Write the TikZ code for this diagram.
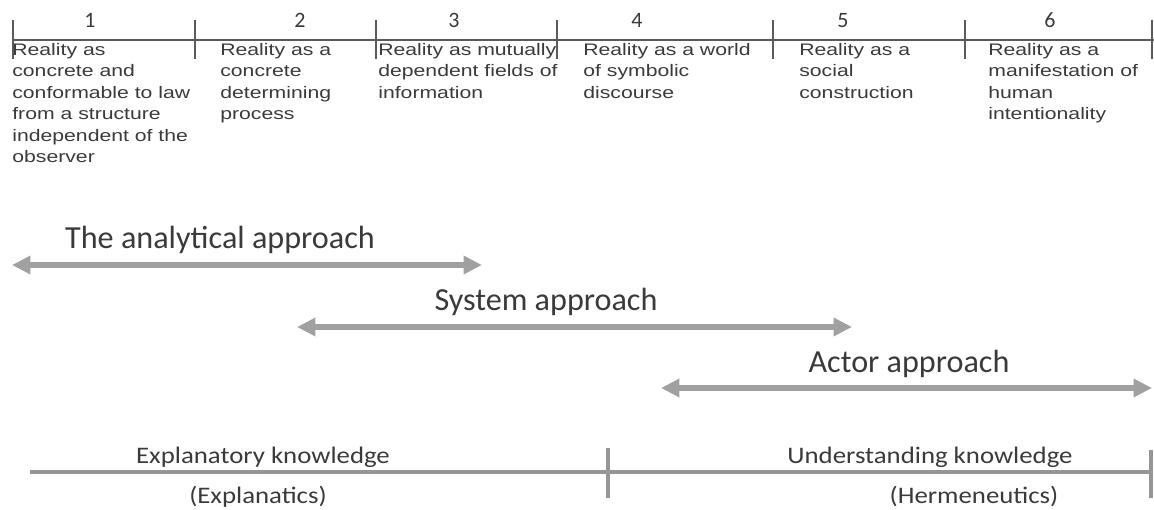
\documentclass[tikz,border=0pt]{standalone}
\usepackage{fontspec}
\usepackage{tikz}
\usetikzlibrary{arrows.meta,positioning}
\newfontfamily\colfont[FakeStretch=1.27]{Liberation Sans}
\newfontfamily\labfont{Carlito}
\newfontfamily\knowfont[FakeStretch=1.13]{Carlito}
\definecolor{axisgray}{RGB}{90,90,90}
\definecolor{arrowgray}{RGB}{160,160,160}
\definecolor{linegray}{RGB}{150,150,150}
\definecolor{textgray}{RGB}{58,58,58}

\begin{document}
\begin{tikzpicture}[
    x=0.02cm, y=-0.02cm,
    >={Triangle[length=10.5pt, width=10pt]},
    axisline/.style={draw=axisgray, line width=1.1pt},
    numlabel/.style={font=\labfont\fontsize{12.5}{14}\selectfont, text=textgray,
        anchor=base, inner sep=0pt},
    realitytext/.style={font=\colfont\fontsize{9.5}{12.2}\selectfont, text=textgray,
        align=left, anchor=north west, inner sep=0pt},
    spanarr/.style={<->, draw=arrowgray, line width=3pt},
    spanlabel/.style={font=\labfont\fontsize{18.3}{22}\selectfont, text=textgray,
        anchor=base, inner sep=0pt},
    knowline/.style={draw=linegray, line width=2.2pt},
    knowlabel/.style={font=\knowfont\fontsize{13.5}{16}\selectfont, text=textgray,
        anchor=base, inner sep=0pt},
]
\useasboundingbox (0,0) rectangle (1154,510);

% === TOP: numbered scale of reality views ===
\coordinate (a0) at (13,40);
\coordinate (a1) at (195,40);
\coordinate (a2) at (376,40);
\coordinate (a3) at (557,40);
\coordinate (a4) at (773,40);
\coordinate (a5) at (965,40);
\coordinate (a6) at (1152,40);
\coordinate (aend) at (1154,40);

\draw[axisline] (a0) -- (aend);
\foreach \t in {a0,a1,a2,a3,a4,a5,a6}
    \draw[axisline] (\t) ++(0,-20) -- ++(0,39);

\node[numlabel] (n1) at (90,28) {1};
\node[numlabel] (n2) at (300,28) {2};
\node[numlabel] (n3) at (454,28) {3};
\node[numlabel] (n4) at (637,28) {4};
\node[numlabel] (n5) at (843,28) {5};
\node[numlabel] (n6) at (1050,28) {6};

\node[realitytext] (r1) at (12,43) {Reality as\\concrete and\\conformable to law\\from a structure\\independent of the\\observer};
\node[realitytext] (r2) at (220,43) {Reality as a\\concrete\\determining\\process};
\node[realitytext] (r3) at (378,43) {Reality as mutually\\dependent fields of\\information};
\node[realitytext] (r4) at (583,43) {Reality as a world\\of symbolic\\discourse};
\node[realitytext] (r5) at (799,43) {Reality as a\\social\\construction};
\node[realitytext] (r6) at (988,43) {Reality as a\\manifestation of\\human\\intentionality};

% === MIDDLE: approach spans ===
\coordinate (ana-l) at (12,265);
\coordinate (ana-r) at (482,265);
\draw[spanarr] (ana-l) -- (ana-r);
\node[spanlabel] (ana) at (220,249) {The analytical approach};

\coordinate (sys-l) at (297,327);
\coordinate (sys-r) at (852,327);
\draw[spanarr] (sys-l) -- (sys-r);
\node[spanlabel] (sys) at (546,311) {System approach};

\coordinate (act-l) at (661,388);
\coordinate (act-r) at (1152,388);
\draw[spanarr] (act-l) -- (act-r);
\node[spanlabel] (act) at (909,372) {Actor approach};

% === BOTTOM: kinds of knowledge ===
\coordinate (k0) at (30,472);
\coordinate (k1) at (608,472);
\coordinate (k2) at (1151,472);
\draw[knowline] (k0) -- (k2);
\draw[knowline] (k1) ++(0,-24) -- ++(0,50);
\draw[knowline] (k2) ++(0,-22) -- ++(0,48);

\node[knowlabel] (expl) at (263,463) {Explanatory knowledge};
\node[knowlabel] (explb) at (258,503) {(Explanatics)};
\node[knowlabel] (und) at (930,463) {Understanding knowledge};
\node[knowlabel] (undb) at (974,503) {(Hermeneutics)};

\end{tikzpicture}
\end{document}
